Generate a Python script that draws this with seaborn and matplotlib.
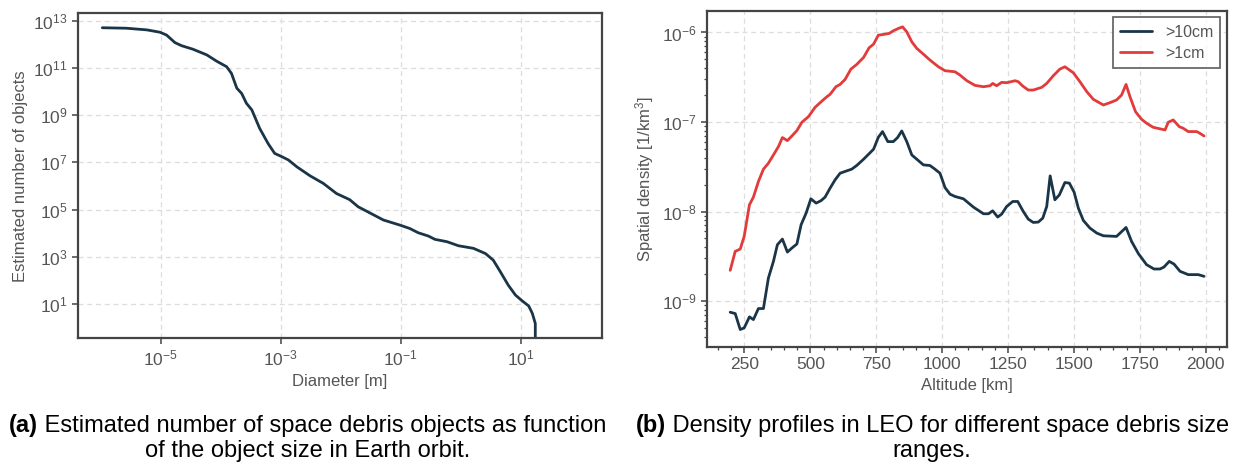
import numpy as np
import pandas as pd
import matplotlib
matplotlib.use("Agg")
import matplotlib.pyplot as plt
import matplotlib.ticker as mticker
import seaborn as sns

# ---- (a) cumulative number of objects vs. diameter (log10 values) ----
diameter_log = [-5.97, -5.57, -5.23, -5.01, -4.90, -4.76, -4.65, -4.46, -4.23,
                -4.07, -3.90, -3.82, -3.73, -3.65, -3.57, -3.48, -3.35, -3.21,
                -3.10, -2.98, -2.87, -2.73, -2.51, -2.29, -2.07, -1.85, -1.71,
                -1.29, -1.01, -0.85, -0.71, -0.54, -0.43, -0.23, -0.04, 0.21,
                0.41, 0.54, 0.66, 0.79, 0.91, 1.02, 1.13, 1.19, 1.24, 1.24]
count_log = [12.70, 12.68, 12.61, 12.51, 12.39, 12.07, 11.94, 11.79, 11.55,
             11.29, 11.05, 10.77, 10.14, 9.92, 9.50, 9.22, 8.44, 7.80,
             7.38, 7.24, 7.10, 6.81, 6.43, 6.11, 5.68, 5.42, 5.12,
             4.56, 4.34, 4.20, 4.02, 3.88, 3.74, 3.64, 3.47, 3.36,
             3.14, 2.86, 2.36, 1.80, 1.38, 1.14, 0.92, 0.61, 0.18, -1.0]

# ---- (b) spatial density vs. altitude ----
alt_10cm = [196, 215, 234, 249, 269, 284, 303, 322, 341, 360, 375, 394, 413,
            430, 449, 465, 484, 502, 522, 540, 556, 575, 594, 613, 638, 657,
            676, 702, 721, 740, 758, 774, 794, 815, 831, 847, 866, 885, 904,
            929, 954, 973, 992, 1011, 1030, 1049, 1081, 1119, 1157, 1176, 1192,
            1211, 1226, 1245, 1268, 1287, 1308, 1327, 1346, 1365, 1382, 1397,
            1410, 1428, 1445, 1466, 1483, 1501, 1517, 1536, 1561, 1587, 1612,
            1662, 1698, 1719, 1745, 1776, 1804, 1827, 1842, 1862, 1880, 1903,
            1934, 1972, 1994]
dens_10cm_log = [-9.125, -9.140, -9.318, -9.300, -9.177, -9.207, -9.084, -9.084,
                 -8.742, -8.557, -8.371, -8.308, -8.453, -8.408, -8.363, -8.148,
                 -8.018, -7.858, -7.906, -7.880, -7.839, -7.739, -7.646, -7.572,
                 -7.546, -7.527, -7.486, -7.416, -7.360, -7.304, -7.171, -7.107,
                 -7.219, -7.219, -7.174, -7.100, -7.219, -7.368, -7.416, -7.479,
                 -7.486, -7.527, -7.572, -7.732, -7.806, -7.832, -7.858, -7.951,
                 -8.025, -8.025, -7.992, -8.062, -8.029, -7.944, -7.888, -7.888,
                 -7.999, -8.085, -8.122, -8.118, -8.074, -7.944, -7.602, -7.869,
                 -7.814, -7.676, -7.683, -7.784, -7.962, -8.100, -8.185, -8.241,
                 -8.271, -8.278, -8.178, -8.334, -8.471, -8.594, -8.642, -8.642,
                 -8.620, -8.557, -8.587, -8.668, -8.705, -8.705, -8.724]

alt_1cm = [196, 215, 234, 249, 269, 284, 303, 322, 341, 360, 379, 394, 413,
           430, 449, 468, 493, 518, 544, 563, 575, 597, 613, 632, 654, 676,
           702, 723, 740, 758, 777, 799, 815, 834, 850, 866, 885, 904, 929,
           954, 986, 1011, 1049, 1068, 1094, 1125, 1157, 1182, 1192, 1207,
           1226, 1245, 1277, 1289, 1306, 1327, 1346, 1378, 1397, 1422, 1447,
           1466, 1498, 1523, 1549, 1574, 1612, 1637, 1662, 1681, 1698, 1713,
           1734, 1757, 1776, 1801, 1846, 1858, 1877, 1900, 1915, 1934, 1966,
           1978, 1994]
dens_1cm_log = [-8.657, -8.445, -8.419, -8.278, -7.925, -7.839, -7.665, -7.527,
                -7.460, -7.368, -7.275, -7.174, -7.208, -7.156, -7.096, -7.003,
                -6.940, -6.836, -6.766, -6.717, -6.691, -6.606, -6.580, -6.524,
                -6.409, -6.357, -6.279, -6.171, -6.130, -6.030, -6.022, -6.011,
                -5.981, -5.955, -5.937, -5.993, -6.104, -6.178, -6.242, -6.308,
                -6.383, -6.427, -6.439, -6.476, -6.539, -6.591, -6.606, -6.595,
                -6.569, -6.595, -6.557, -6.561, -6.539, -6.550, -6.598, -6.643,
                -6.643, -6.613, -6.569, -6.483, -6.409, -6.383, -6.450, -6.550,
                -6.661, -6.747, -6.810, -6.784, -6.754, -6.699, -6.580, -6.718,
                -6.885, -6.970, -7.014, -7.059, -7.089, -7.003, -6.977, -7.052,
                -7.070, -7.107, -7.107, -7.126, -7.156]

series_names = [">10cm", ">1cm"]
series_colors = ["#1b3548", "#e23b3b"]

df_a = pd.DataFrame({"diameter": 10.0 ** np.array(diameter_log),
                     "count": 10.0 ** np.array(count_log)})
df_b = pd.concat([
    pd.DataFrame({"altitude": alt_10cm, "density": 10.0 ** np.array(dens_10cm_log),
                  "size": series_names[0]}),
    pd.DataFrame({"altitude": alt_1cm, "density": 10.0 ** np.array(dens_1cm_log),
                  "size": series_names[1]}),
], ignore_index=True)

sns.set_theme(style="ticks")
plt.rcParams["font.family"] = ["Liberation Sans", "DejaVu Sans"]
plt.rcParams["mathtext.fontset"] = "custom"
plt.rcParams["mathtext.rm"] = "Liberation Sans"
plt.rcParams["mathtext.it"] = "Liberation Sans:italic"
plt.rcParams["mathtext.bf"] = "Liberation Sans:bold"

text_grey = "#555555"
spine_grey = "#444444"

fig = plt.figure(figsize=(12.33, 4.68), dpi=100)
ax_a = fig.add_axes([0.0635, 0.2771, 0.4247, 0.6944])
ax_b = fig.add_axes([0.5732, 0.2592, 0.4217, 0.7173])


def style_axes(ax):
    for sp in ax.spines.values():
        sp.set_color(spine_grey)
        sp.set_linewidth(1.6)
    ax.tick_params(which="major", length=4, width=1.1, color=spine_grey,
                   labelsize=12.5, labelcolor=text_grey)
    ax.tick_params(which="minor", length=2.5, width=0.9, color=spine_grey)
    ax.grid(True, which="major", linestyle=(0, (4, 3)), color="#dddddd", linewidth=0.9)
    ax.set_axisbelow(True)


# (a)
sns.lineplot(data=df_a, x="diameter", y="count", ax=ax_a, color=series_colors[0],
             linewidth=2.0, sort=False, estimator=None)
ax_a.set_xscale("log")
ax_a.set_yscale("log")
ax_a.set_xlim(10 ** -6.37, 10 ** 2.35)
ax_a.set_ylim(10 ** -0.45, 10 ** 13.31)
ax_a.xaxis.set_major_locator(mticker.FixedLocator([1e-5, 1e-3, 1e-1, 1e1]))
ax_a.yaxis.set_major_locator(mticker.FixedLocator([1e1, 1e3, 1e5, 1e7, 1e9, 1e11, 1e13]))
ax_a.xaxis.set_major_formatter(mticker.LogFormatterSciNotation())
ax_a.yaxis.set_major_formatter(mticker.LogFormatterSciNotation())
ax_a.xaxis.set_minor_locator(mticker.NullLocator())
ax_a.yaxis.set_minor_locator(mticker.NullLocator())
ax_a.set_xlabel("Diameter [m]", fontsize=12, color=text_grey)
ax_a.set_ylabel("Estimated number of objects", fontsize=12, color=text_grey)
style_axes(ax_a)

# (b)
sns.lineplot(data=df_b, x="altitude", y="density", hue="size", ax=ax_b,
             palette=dict(zip(series_names, series_colors)), hue_order=series_names,
             linewidth=2.0, sort=False, estimator=None)
ax_b.set_yscale("log")
ax_b.set_xlim(107, 2080)
ax_b.set_ylim(10 ** -9.51, 10 ** -5.76)
ax_b.xaxis.set_major_locator(mticker.MultipleLocator(250))
ax_b.xaxis.set_minor_locator(mticker.MultipleLocator(50))
ax_b.set_xlabel("Altitude [km]", fontsize=12, color=text_grey)
ax_b.set_ylabel("Spatial density [1/km$^3$]", fontsize=12, color=text_grey)
style_axes(ax_b)
leg = ax_b.legend(loc="upper right", fontsize=11.5, frameon=True, fancybox=False,
                  handlelength=2.0, handletextpad=0.8, borderpad=0.45,
                  labelspacing=0.4, borderaxespad=0.4)
leg.get_frame().set_edgecolor(spine_grey)
leg.get_frame().set_linewidth(1.3)
for t in leg.get_texts():
    t.set_color(text_grey)

# captions below the panels
caption_size = 17
captions = [
    (0.2495, "(a)", " Estimated number of space debris objects as function",
     "of the object size in Earth orbit."),
    (0.7560, "(b)", " Density profiles in LEO for different space debris size",
     "ranges."),
]
fig.canvas.draw()
renderer = fig.canvas.get_renderer()
for xc, tag, rest, line2 in captions:
    t_tag = fig.text(0, 0.0770, tag, fontsize=caption_size, fontweight="bold",
                     va="baseline", ha="left", color="black")
    t_rest = fig.text(0, 0.0770, rest, fontsize=caption_size, va="baseline",
                      ha="left", color="black")
    w_tag = t_tag.get_window_extent(renderer).width / fig.bbox.width
    w_rest = t_rest.get_window_extent(renderer).width / fig.bbox.width
    x0 = xc - (w_tag + w_rest) / 2
    t_tag.set_x(x0)
    t_rest.set_x(x0 + w_tag)
    fig.text(xc, 0.0240, line2, fontsize=caption_size, va="baseline", ha="center",
             color="black")

fig.savefig("out.png", dpi=100)
